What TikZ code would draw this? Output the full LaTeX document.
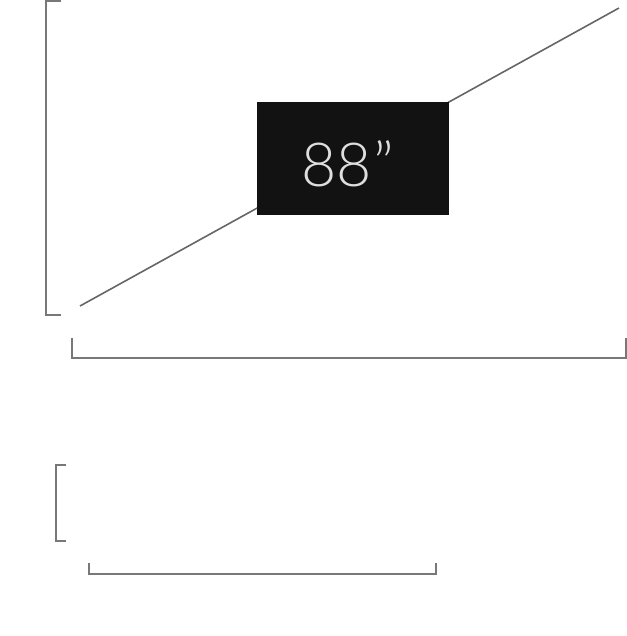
\documentclass[tikz,border=0pt]{standalone}
\usepackage{fontspec}
\setmainfont{Lato Light}
\begin{document}
\begin{tikzpicture}[x=1bp,y=-1bp,
  brk/.style={draw=black!53,line width=2bp},
  diag/.style={draw=black!60,line width=1.6bp},
  screen/.style={fill=black!93,draw=none,inner sep=0},
  label/.style={text=black!13,font=\fontsize{61}{63}\selectfont,inner sep=0}]
\useasboundingbox (0,0) rectangle (627,636);
\coordinate (d1) at (80,306);
\coordinate (d2) at (619,8);
\draw[diag] (d1) -- (d2);
\node[screen,minimum width=191.5bp,minimum height=113.5bp,anchor=north west] (scr) at (256.8,101.7) {};
\node[label,anchor=base west] (txt) at (301,187) {88\kern2bp”};
\draw[brk] (60.5,1) -- (46,1) -- (46,315) -- (60.5,315);
\draw[brk] (72,338) -- (72,357.5) -- (626,357.5) -- (626,338);
\draw[brk] (66,465) -- (56,465) -- (56,540.5) -- (66,540.5);
\draw[brk] (88.5,563) -- (88.5,573.5) -- (435.5,573.5) -- (435.5,563);
\end{tikzpicture}
\end{document}
